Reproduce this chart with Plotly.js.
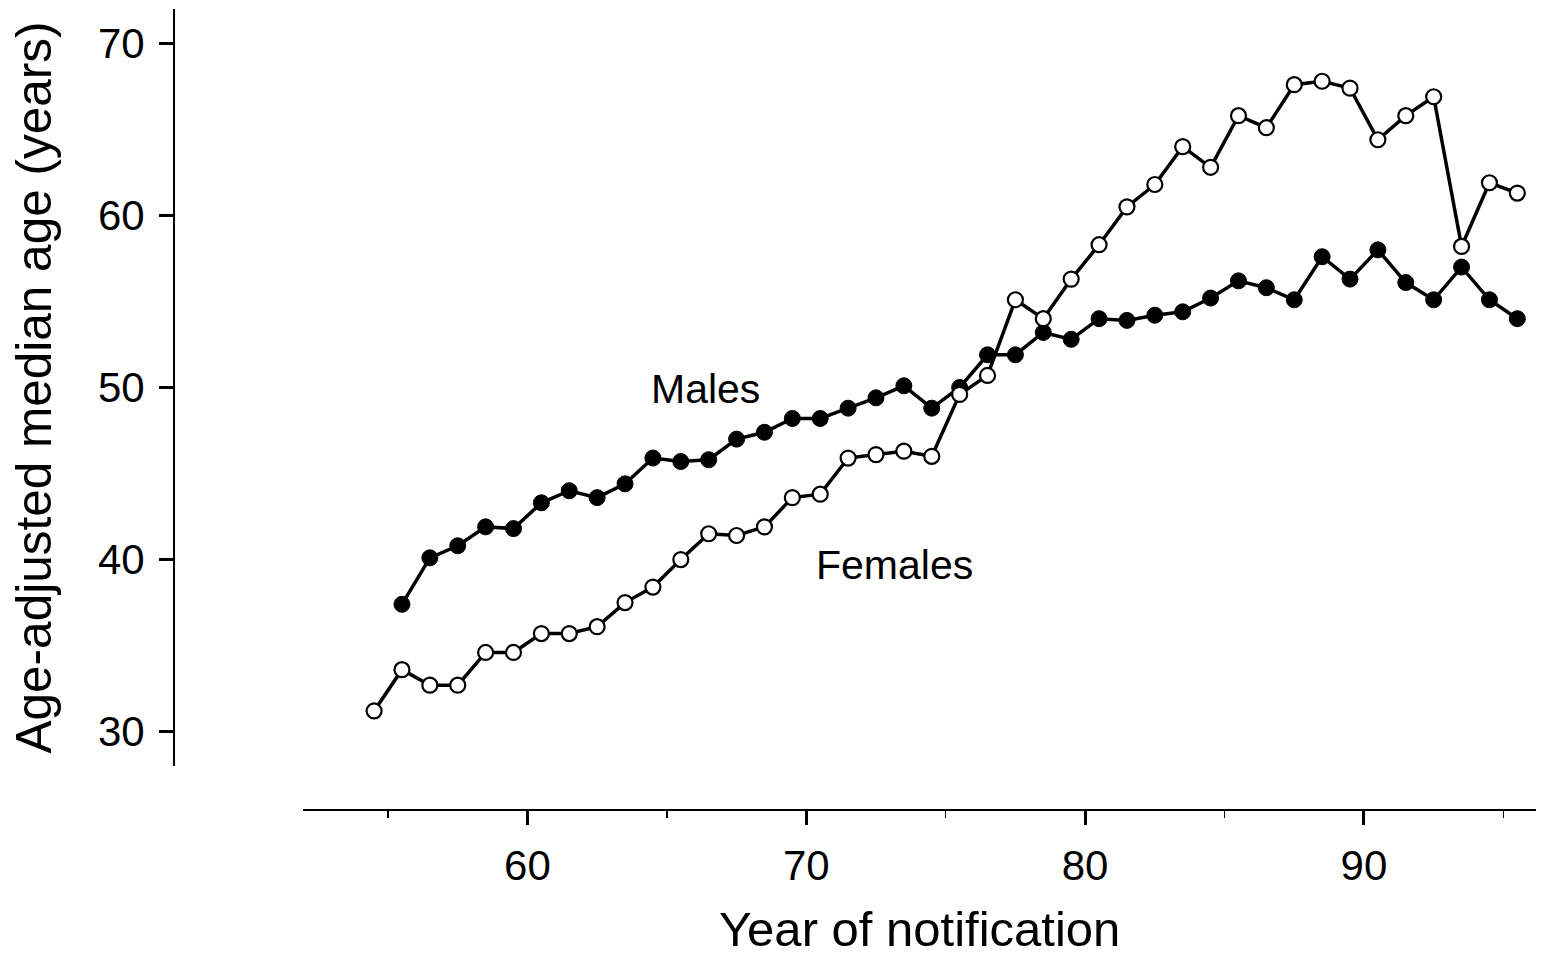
<!DOCTYPE html>
<html>
<head>
<meta charset="utf-8">
<script src="https://cdn.plot.ly/plotly-3.0.1.min.js"></script>
<style>html,body{margin:0;padding:0;background:#fff;}#chart{width:1546px;height:956px;}</style>
</head>
<body>
<div id="chart"></div>
<script>
const femaleYears = [54.5,55.5,56.5,57.5,58.5,59.5,60.5,61.5,62.5,63.5,64.5,65.5,66.5,67.5,68.5,69.5,70.5,71.5,72.5,73.5,74.5,75.5,76.5,77.5,78.5,79.5,80.5,81.5,82.5,83.5,84.5,85.5,86.5,87.5,88.5,89.5,90.5,91.5,92.5,93.5,94.5,95.5];
const femaleAge = [31.2,33.6,32.7,32.7,34.6,34.6,35.7,35.7,36.1,37.5,38.4,40.0,41.5,41.4,41.9,43.6,43.8,45.9,46.1,46.3,46.0,49.6,50.7,55.1,54.0,56.3,58.3,60.5,61.8,64.0,62.8,65.8,65.1,67.6,67.8,67.4,64.4,65.8,66.9,58.2,61.9,61.3];
const maleYears = [55.5,56.5,57.5,58.5,59.5,60.5,61.5,62.5,63.5,64.5,65.5,66.5,67.5,68.5,69.5,70.5,71.5,72.5,73.5,74.5,75.5,76.5,77.5,78.5,79.5,80.5,81.5,82.5,83.5,84.5,85.5,86.5,87.5,88.5,89.5,90.5,91.5,92.5,93.5,94.5,95.5];
const maleAge = [37.4,40.1,40.8,41.9,41.8,43.3,44.0,43.6,44.4,45.9,45.7,45.8,47.0,47.4,48.2,48.2,48.8,49.4,50.1,48.8,50.0,51.9,51.9,53.2,52.8,54.0,53.9,54.2,54.4,55.2,56.2,55.8,55.1,57.6,56.3,58.0,56.1,55.1,57.0,55.1,54.0];
const xTickVals = [60,70,80,90];
const yTickVals = [30,40,50,60,70];
const seriesLabels = ["Males","Females"];
const xTitle = "Year of notification";
const yTitle = "Age-adjusted median age (years)";

const FONT = "Liberation Sans, Arial, Helvetica, sans-serif";

const traces = [
  {
    x: maleYears, y: maleAge, name: seriesLabels[0], type: "scatter", mode: "lines+markers",
    line: {color: "#000", width: 3.5},
    marker: {symbol: "circle", size: 16, color: "#000", line: {color: "#000", width: 1}}
  },
  {
    x: femaleYears, y: femaleAge, name: seriesLabels[1], type: "scatter", mode: "lines+markers",
    line: {color: "#000", width: 3.5},
    marker: {symbol: "circle", size: 15, color: "#fff", line: {color: "#000", width: 2.2}}
  }
];

const layout = {
  width: 1546, height: 956,
  paper_bgcolor: "#fff", plot_bgcolor: "#fff",
  showlegend: false,
  font: {family: FONT, color: "#000"},
  margin: {l: 174, r: 10, t: 9, b: 146, pad: 0},
  xaxis: {
    range: [51.96, 96.17], domain: [0.0949, 1], anchor: "free", position: 0,
    showline: true, linecolor: "#000", linewidth: 2,
    showgrid: false, zeroline: false,
    ticks: "outside", ticklen: 14, tickwidth: 3, tickcolor: "#000",
    tickmode: "array", tickvals: xTickVals, ticktext: xTickVals.map(String),
    ticklabelstandoff: 5,
    tickfont: {size: 42, family: FONT, color: "#000"},
    minor: {dtick: 5, tick0: 0, ticks: "outside", ticklen: 7, tickwidth: 1.5, tickcolor: "#000", showgrid: false},
    title: {text: xTitle, font: {size: 49, family: FONT, color: "#000"}, standoff: 38}
  },
  yaxis: {
    range: [28, 72], domain: [0.0549, 1], anchor: "free", position: 0,
    showline: true, linecolor: "#000", linewidth: 2,
    showgrid: false, zeroline: false,
    ticks: "outside", ticklen: 14, tickwidth: 3, tickcolor: "#000",
    tickmode: "array", tickvals: yTickVals, ticktext: yTickVals.map(String),
    ticklabelstandoff: 6,
    tickfont: {size: 42, family: FONT, color: "#000"},
    title: {text: yTitle, font: {size: 49.5, family: FONT, color: "#000"}, standoff: 30}
  },
  annotations: [
    {x: 66.38, y: 49.91, xref: "x", yref: "y", text: seriesLabels[0], showarrow: false,
     xanchor: "center", yanchor: "middle", font: {size: 41, family: FONT, color: "#000"}},
    {x: 73.18, y: 39.67, xref: "x", yref: "y", text: seriesLabels[1], showarrow: false,
     xanchor: "center", yanchor: "middle", font: {size: 41, family: FONT, color: "#000"}}
  ]
};

Plotly.newPlot("chart", traces, layout, {staticPlot: true, displayModeBar: false});
</script>
</body>
</html>
